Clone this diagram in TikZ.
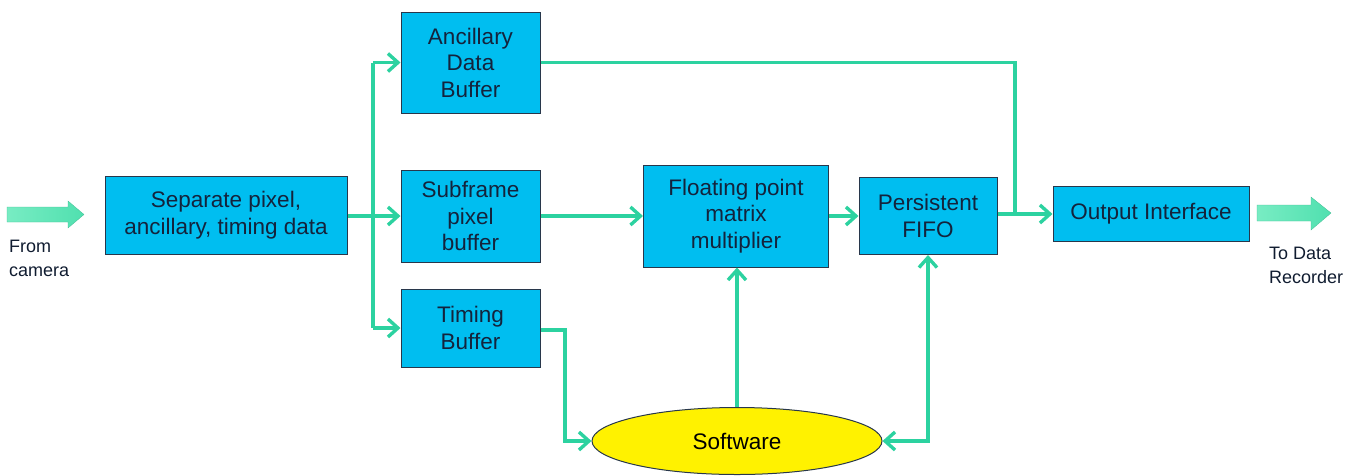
\documentclass[tikz,border=0pt]{standalone}
\usepackage{fontspec}
\setmainfont{Liberation Sans}
\usetikzlibrary{arrows.meta,shapes.geometric}
\definecolor{conn}{RGB}{44,210,160}
\definecolor{boxfill}{RGB}{0,190,240}
\definecolor{boxline}{RGB}{40,55,75}
\definecolor{txt}{RGB}{20,35,60}
\definecolor{mintL}{RGB}{120,236,195}
\definecolor{mintR}{RGB}{80,224,175}
\tikzset{
  blk/.style={draw=boxline, line width=1pt, fill=boxfill, text=txt, align=center,
     font=\fontsize{22.5}{26.5}\selectfont, inner sep=0pt},
  line/.style={draw=conn, line width=3.6pt},
  arr/.style={line, -{Straight Barb[length=10pt,width=18pt,line width=3.4pt]}},
  darr/.style={line, {Straight Barb[length=10pt,width=18pt,line width=3.4pt]}-{Straight Barb[length=10pt,width=18pt,line width=3.4pt]}},
  lbl/.style={text=txt!80!black, font=\fontsize{18}{24}\selectfont, align=left, inner sep=0pt},
  bigarrow/.style={left color=mintL, right color=mintR, draw=mintR!85!black, line width=0.3pt}
}
\begin{document}
\begin{tikzpicture}[x=1pt,y=-1pt]
\useasboundingbox (0,0) rectangle (1361,475);
% blocks
\node[blk, minimum width=242pt, minimum height=78pt] (sep) at (226,215) {Separate pixel,\\ancillary, timing data};
\node[blk, minimum width=139pt, minimum height=101pt] (anc) at (470.5,62.5) {Ancillary\\Data\\Buffer};
\node[blk, minimum width=139pt, minimum height=92pt] (sub) at (470.5,216) {Subframe\\pixel\\buffer};
\node[blk, minimum width=139pt, minimum height=78pt] (tim) at (470.5,328) {Timing\\Buffer};
\node[blk, minimum width=185pt, minimum height=102pt] (flt) at (736,216) {Floating point\\matrix\\multiplier};
\node[blk, minimum width=138pt, minimum height=77pt] (fifo) at (928,216) {Persistent\\FIFO};
\node[blk, minimum width=196pt, minimum height=55pt] (out) at (1151,214) {Output Interface};
\node[ellipse, draw=boxline, line width=1pt, fill=yellow, minimum width=290pt, minimum height=67pt,
      inner sep=0pt, font=\fontsize{22.5}{26.5}\selectfont, text=black] (sw) at (737,441) {Software};
% side labels
\node[lbl, anchor=north west] (from) at (9,240) {From\\camera};
\node[lbl, anchor=north west] (to) at (1269,247) {To Data\\Recorder};
% big arrows
\path[bigarrow] (7,207) -- (68,207) -- (68,201) -- (84,214.5) -- (68,228) -- (68,222) -- (7,222) -- cycle;
\path[bigarrow] (1257,205) -- (1311,205) -- (1311,197) -- (1331,213) -- (1311,230) -- (1311,221) -- (1257,221) -- cycle;
% connectors
\coordinate (j) at (373,216);
\draw[line] (sep.east |- j) -- (j);
\draw[arr] (j) -- (sub.west |- j);
\draw[line] (j |- anc.west) -- (j |- tim.west);
\draw[arr] (j |- anc.west) -- (anc.west);
\draw[arr] (j |- tim.west) -- (tim.west);
\draw[arr] (sub.east) -- (flt.west |- sub.east);
\draw[arr] (flt.east) -- (fifo.west |- flt.east);
\coordinate (m) at (1015,214);
\draw[line] (fifo.east |- m) -- (m);
\draw[arr] (m) -- (out.west);
\draw[line] (anc.east) -| (m);
\coordinate (t) at (565,330);
\draw[arr] (tim.east |- t) -- (t) |- (sw.west);
\draw[arr] (sw.north) -- (sw.north |- flt.south);
\draw[darr] (fifo.south) |- (sw.east);
\end{tikzpicture}
\end{document}
